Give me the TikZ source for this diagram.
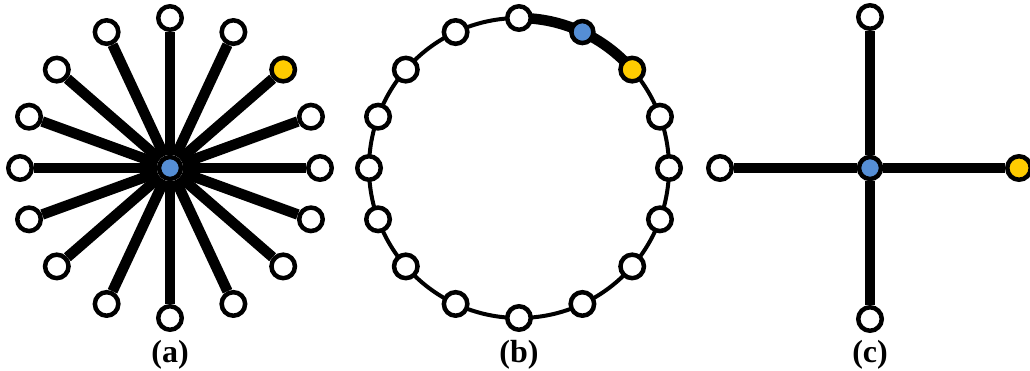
\documentclass[tikz,border=0pt]{standalone}
\usepackage{fontspec}
\setmainfont{Liberation Serif}
\usepackage{tikz}
\usetikzlibrary{positioning,backgrounds,calc}
\definecolor{HubBlue}{HTML}{558ED5}
\definecolor{GoalYellow}{HTML}{FFCC00}
\tikzset{
  vertex/.style={circle, draw=black, fill=white, line width=4.5pt,
                 minimum size=23.5pt, inner sep=0pt},
  hub/.style={vertex, fill=HubBlue, minimum size=22pt},
  goal/.style={vertex, fill=GoalYellow},
  spoke/.style={line width=10.5pt},
  ring/.style={line width=4pt},
  caption/.style={font=\fontsize{32}{34}\selectfont\bfseries, anchor=base}
}

\begin{document}
\begin{tikzpicture}[x=1pt,y=1pt]
  \useasboundingbox (0,0) rectangle (1030,370);

  % (a) star graph
  \node[hub] (a0) at (170,202) {};
  \foreach \ang/\sty [count=\i] in {0/vertex,20/vertex,41/goal,65/vertex,
      90/vertex,115/vertex,139/vertex,160/vertex,180/vertex,200/vertex,
      221/vertex,245/vertex,270/vertex,295/vertex,319/vertex,340/vertex}{
    \node[\sty] (a\i) at ($(a0)+(\ang:150)$) {};
    \draw[spoke] (a0) -- (a\i);
  }
  \node[caption] (capa) at (170,8) {(a)};

  % (b) ring
  \coordinate (b0) at (519,202);
  \foreach \ang/\sty [count=\i] in {0/vertex,20/vertex,41/goal,65/hub,
      90/vertex,115/vertex,139/vertex,160/vertex,180/vertex,200/vertex,
      221/vertex,245/vertex,270/vertex,295/vertex,319/vertex,340/vertex}{
    \node[\sty] (b\i) at ($(b0)+(\ang:150)$) {};
  }
  \begin{scope}[on background layer]
    \draw[ring] (b0) circle[radius=150];
    \draw[spoke] (b5.center) arc[start angle=90, end angle=41, radius=150];
  \end{scope}
  \node[caption] (capb) at (519,8) {(b)};

  % (c) cross
  \node[hub] (c0) at (870,202) {};
  \node[vertex] (c1) at ($(c0)+(0,151)$) {};
  \node[vertex] (c2) at ($(c0)+(-150,0)$) {};
  \node[vertex] (c3) at ($(c0)+(0,-151)$) {};
  \node[goal] (c4) at ($(c0)+(149,0)$) {};
  \foreach \i in {1,...,4}
    \draw[spoke] (c0) -- (c\i);
  \node[caption] (capc) at (870,8) {(c)};
\end{tikzpicture}
\end{document}
